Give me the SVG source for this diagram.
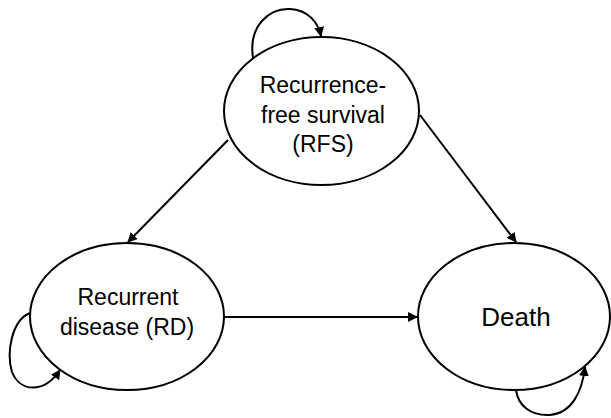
<svg xmlns="http://www.w3.org/2000/svg" width="611" height="418" viewBox="0 0 611 418">
<defs>
<style>
.node{fill:#fff;stroke:#000;stroke-width:2}
.lbl{font-family:"Liberation Sans",Arial,sans-serif;font-size:23px;fill:#000;text-anchor:middle}
.edge{fill:none;stroke:#000;stroke-width:2;marker-end:url(#ah)}
</style>
<marker id="ah" viewBox="0 0 10 10" refX="9" refY="5" markerWidth="5" markerHeight="5" orient="auto" markerUnits="strokeWidth">
<path d="M0,0 L10,5 L0,10 z" fill="#000"/>
</marker>
</defs>
<rect width="611" height="418" fill="#fff"/>
<g id="connectors">
<path class="edge" d="M228,140 L128,242"/>
<path class="edge" d="M420,115 L516,242"/>
<path class="edge" d="M224,317 L417,317"/>
<path class="edge" d="M253,58 C248,25 270,8 290,9 C308,10 318,22 321,36"/>
<path class="edge" d="M30,313 C12,320 6,352 12,372 C20,392 44,394 60,370"/>
<path class="edge" d="M516,390 C518,405 530,416 550,415 C572,413 582,392 585,367"/>
</g>
<g id="rfs">
<ellipse class="node" cx="321.5" cy="111" rx="97.5" ry="74"/>
<text class="lbl" x="323" y="93">Recurrence-</text>
<text class="lbl" x="323" y="123">free survival</text>
<text class="lbl" x="323" y="152">(RFS)</text>
</g>
<g id="rd">
<ellipse class="node" cx="127" cy="316.5" rx="97" ry="73.5"/>
<text class="lbl" x="128" y="305">Recurrent</text>
<text class="lbl" x="127" y="335">disease (RD)</text>
</g>
<g id="death">
<ellipse class="node" cx="514" cy="316.5" rx="96" ry="73.5"/>
<text class="lbl" x="516" y="326" style="font-size:26px">Death</text>
</g>
</svg>
